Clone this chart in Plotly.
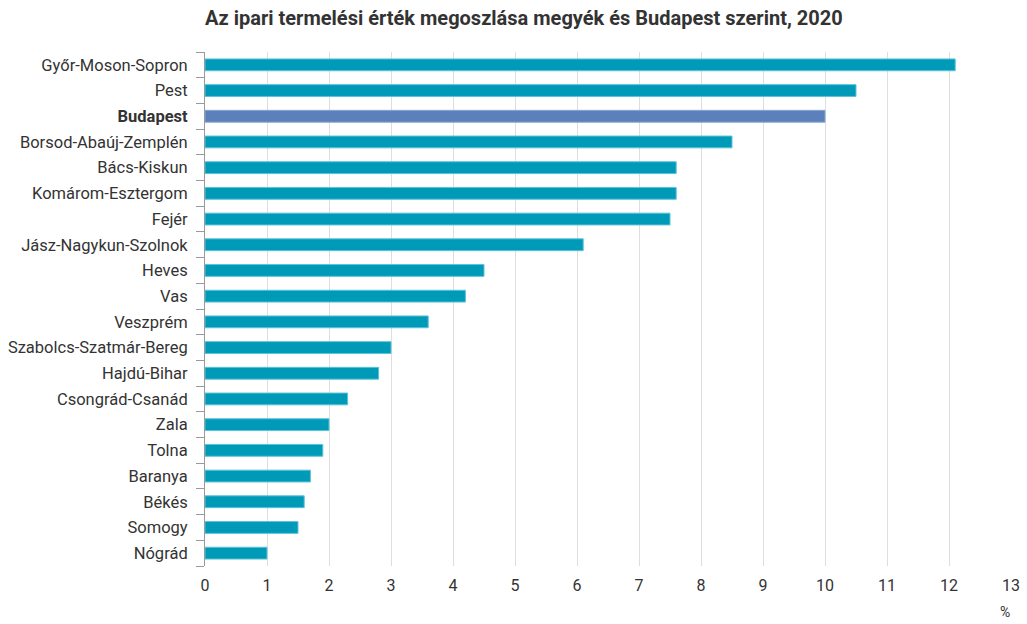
import plotly.graph_objects as go

regions = ["Győr-Moson-Sopron", "Pest", "Budapest", "Borsod-Abaúj-Zemplén", "Bács-Kiskun",
           "Komárom-Esztergom", "Fejér", "Jász-Nagykun-Szolnok", "Heves", "Vas", "Veszprém",
           "Szabolcs-Szatmár-Bereg", "Hajdú-Bihar", "Csongrád-Csanád", "Zala", "Tolna",
           "Baranya", "Békés", "Somogy", "Nógrád"]
values = [12.1, 10.5, 10.0, 8.5, 7.6, 7.6, 7.5, 6.1, 4.5, 4.2, 3.6, 3.0, 2.8, 2.3, 2.0, 1.9,
          1.7, 1.6, 1.5, 1.0]
x_ticks = list(range(0, 14))

colors = ["#5b80bb" if r == "Budapest" else "#009ab9" for r in regions]
line_colors = ["#8aa5d0" if r == "Budapest" else "#5cc3d8" for r in regions]
tick_text = ["<b>Budapest</b>" if r == "Budapest" else r for r in regions]

fig = go.Figure(go.Bar(
    x=values, y=regions, orientation="h",
    marker=dict(color=colors, line=dict(color=line_colors, width=1)),
    width=0.46, hoverinfo="x+y",
))

fig.update_layout(
    width=1027, height=624,
    margin=dict(l=205, r=16, t=52, b=58),
    paper_bgcolor="white", plot_bgcolor="white",
    font=dict(family="Roboto", size=16, color="#333333"),
    showlegend=False,
    xaxis=dict(range=[0, 13], tickvals=x_ticks, showgrid=True, gridcolor="#dedede",
               gridwidth=1, zeroline=False, showline=False, ticks="", automargin=False,
               tickfont=dict(size=16, color="#333333"), ticklabelstandoff=8),
    yaxis=dict(categoryorder="array", categoryarray=regions,
               tickvals=regions, ticktext=tick_text,
               autorange="reversed", automargin=False,
               showline=True, linecolor="#9a9a9a", linewidth=1,
               ticks="outside", tickson="boundaries", ticklen=8, tickcolor="#9a9a9a",
               ticklabelstandoff=13,
               showgrid=False, tickfont=dict(size=16.5, color="#333333")),
    annotations=[
        dict(text="<b>Az ipari termelési érték megoszlása megyék és Budapest szerint, 2020</b>",
             xref="paper", yref="paper", x=-0.003, y=1, xanchor="left", yanchor="bottom",
             yshift=20, showarrow=False, font=dict(size=20, color="#333333", family="Roboto")),
        dict(text="%", xref="paper", yref="paper", x=1, y=0, xanchor="right", yanchor="top",
             yshift=-36, xshift=1, showarrow=False, font=dict(size=14, color="#333333")),
    ],
)

fig.write_html("out.html", config={"displayModeBar": False},
               post_script="document.body.style.margin='0';")
